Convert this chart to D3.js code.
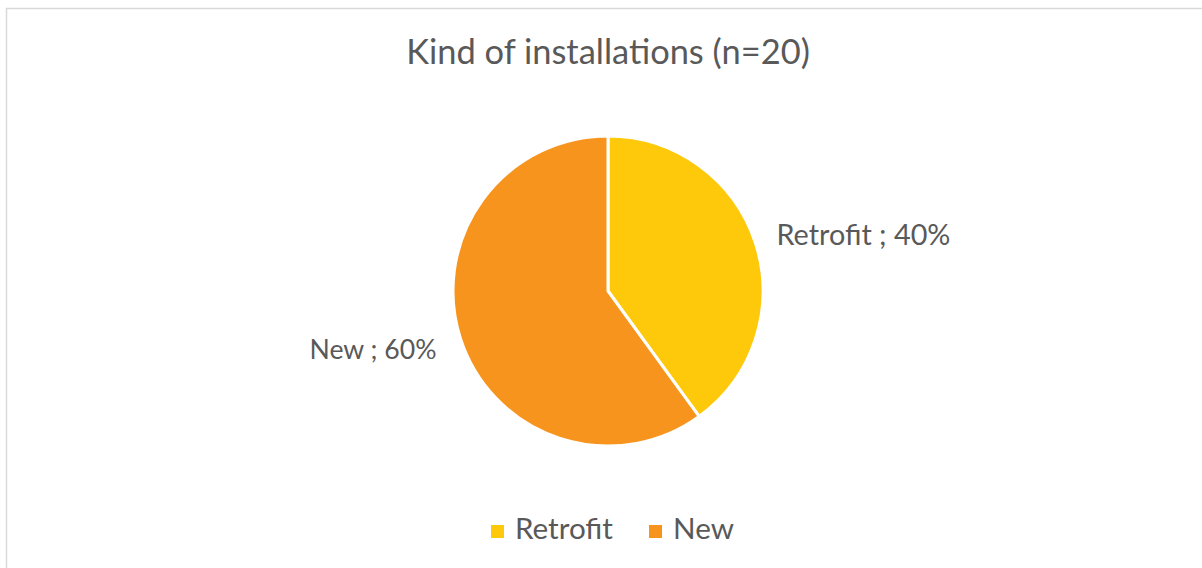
<!DOCTYPE html>
<html>
<head>
<meta charset="utf-8">
<script src="https://cdn.jsdelivr.net/npm/d3@7"></script>
<style>
html,body{margin:0;padding:0;background:#fff;}
svg{display:block;}
text{font-family:Lato,"Open Sans",sans-serif;fill:#595959;}
</style>
</head>
<body>
<svg id="chart" width="1202" height="568"></svg>
<script>
const title = "Kind of installations (n=20)";
const categories = ["Retrofit", "New"];
const values = [40, 60];
const colors = ["#FFC90B", "#F7941D"];

const svg = d3.select("#chart");

// chart frame
svg.append("rect").attr("x", 6.5).attr("y", 8.5).attr("width", 1210).attr("height", 600)
  .attr("fill", "#fff").attr("stroke", "#d9d9d9").attr("stroke-width", 1.5);

function fit(sel, target, base) {
  sel.style("font-size", base + "px");
  const w = sel.node().getComputedTextLength();
  const s = base * target / w;
  sel.style("font-size", s + "px");
  return s;
}

const cx = 608, cy = 291, r = 155;

svg.append("text").attr("x", cx).attr("y", 64).attr("text-anchor", "middle")
  .text(title).call(s => fit(s, 404, 30));

const pie = d3.pie().sort(null).value(d => d)(values);
const arc = d3.arc().innerRadius(0).outerRadius(r);
const g = svg.append("g").attr("transform", `translate(${cx},${cy})`);
g.selectAll("path").data(pie).enter().append("path")
  .attr("d", arc)
  .attr("fill", (d, i) => colors[i])
  .attr("stroke", "#fff").attr("stroke-width", 3).attr("stroke-linejoin", "round");

const total = d3.sum(values);
const fmt = d => Math.round(d / total * 100) + "%";
// data labels (outside end)
const lab1 = svg.append("text").attr("x", 776.5).attr("y", 244.5)
  .text(categories[0] + " ; " + fmt(values[0]));
fit(lab1, 174, 24);
const lab2 = svg.append("text").attr("x", 436.5).attr("y", 358.5).attr("text-anchor", "end")
  .text(categories[1] + " ; " + fmt(values[1]));
fit(lab2, 127, 24);

// legend
const legX = [491, 649];
const lg = svg.append("g");
const t0 = lg.append("text").attr("x", legX[0] + 24).attr("y", 539).text(categories[0]);
const legSize = fit(t0, 98, 24);
categories.forEach((c, i) => {
  lg.append("rect").attr("x", legX[i]).attr("y", 525).attr("width", 13).attr("height", 13)
    .attr("fill", colors[i]);
  if (i > 0) lg.append("text").attr("x", legX[i] + 24).attr("y", 539)
    .style("font-size", legSize + "px").text(c);
});
</script>
</body>
</html>
